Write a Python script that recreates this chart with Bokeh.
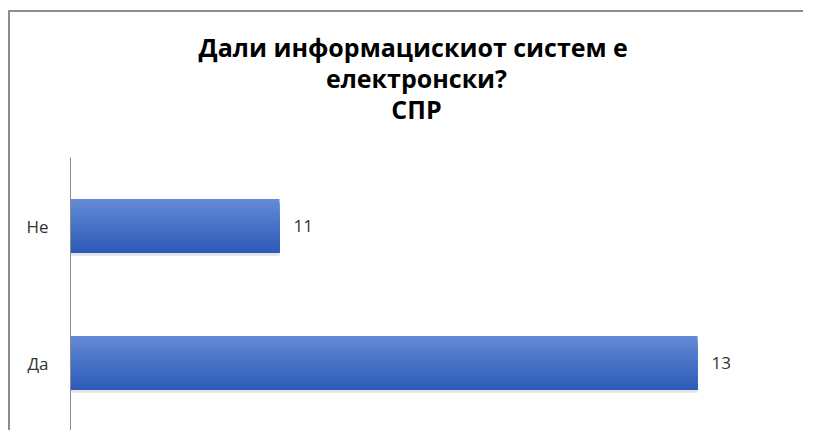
import numpy as np
from bokeh.plotting import figure
from bokeh.models import ColumnDataSource, FactorRange, Range1d, Title
from bokeh.transform import dodge
from bokeh.core.properties import value
from bokeh.embed import file_html
from bokeh.resources import INLINE

# ---- data ----
categories = ["Да", "Не"]
counts = [13, 11]
title_lines = ["Дали  информацискиот систем е", "електронски?", "СПР"]

X_START = 10
X_END = 13.311
BAR_H = 0.394

source = ColumnDataSource(dict(cat=categories, val=counts, lbl=[str(c) for c in counts]))

p = figure(width=795, height=420, output_backend="svg", toolbar_location=None,
           y_range=FactorRange(factors=categories, range_padding=0),
           x_range=Range1d(X_START, X_END),
           min_border_left=60, min_border_right=43, min_border_top=145, min_border_bottom=1,
           outline_line_color=None, background_fill_color="white", border_fill_color="white")
p.styles = {"border-top": "2px solid #8c8c8c", "border-left": "2px solid #8c8c8c",
            "margin-top": "10px", "margin-left": "8px"}

def style_title(t, standoff):
    t.align = "center"
    t.text_font = "Open Sans"
    t.text_font_style = "bold"
    t.text_font_size = "25px"
    t.text_color = "#000000"
    t.standoff = standoff

# default title is outermost; added titles stack from the frame outward
p.title.text = title_lines[0]
style_title(p.title, -5)
spacer = Title(text=" ")
style_title(spacer, -2)
p.add_layout(spacer, "above")
t3 = Title(text=title_lines[2])
style_title(t3, -5)
p.add_layout(t3, "above")
t2 = Title(text=title_lines[1])
style_title(t2, -5)
p.add_layout(t2, "above")

p.xgrid.visible = False
p.ygrid.visible = False
p.xaxis.visible = False

ax = p.yaxis[0]
ax.major_label_text_font = "Open Sans"
ax.major_label_text_font_size = "17px"
ax.major_label_text_color = "#333333"
ax.major_tick_in = 0
ax.major_tick_out = 0
ax.minor_tick_in = 0
ax.minor_tick_out = 0
ax.axis_line_color = "#8c8c8c"
ax.axis_line_width = 1
ax.major_label_standoff = 22

# shadow
p.hbar(y=dodge('cat', -0.02, range=p.y_range), left=X_START, right='val', height=BAR_H,
       color="#b0b0b0", alpha=0.35, line_color=None, source=source)

# gradient bars: paint full bar in top colour, then shorter bottom-anchored bars darker
top = np.array([0x62, 0x89, 0xd5])
bottom = np.array([0x2d, 0x5b, 0xb7])
n = 18
for i in range(n):
    t = i / (n - 1)
    c = top * (1 - t) + bottom * t
    col = "#%02x%02x%02x" % tuple(int(round(v)) for v in c)
    h = BAR_H * (n - i) / n
    off = -BAR_H / 2 + h / 2
    p.hbar(y=dodge('cat', off, range=p.y_range), left=X_START, right='val',
           height=h, color=col, line_color=None, source=source)

# value labels
p.text(x='val', y='cat', text='lbl', x_offset=14, text_baseline="middle",
       text_font=value("Open Sans"), text_font_size=value("17px"), text_color="#333333",
       source=source)

open("out.html", "w").write(file_html(p, INLINE))
